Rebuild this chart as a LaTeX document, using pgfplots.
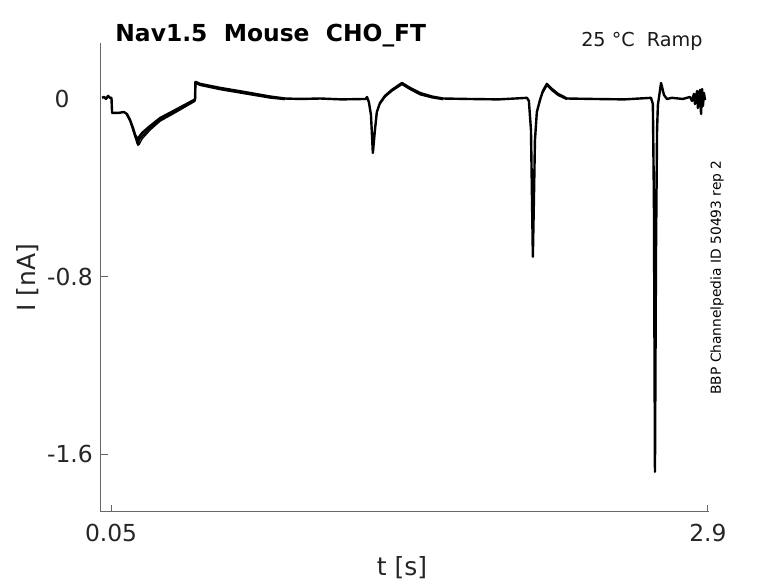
\documentclass[border=0pt]{standalone}
\usepackage{pgfplots}
\pgfplotsset{compat=1.18}
\usepackage{fontspec}
\setmainfont{DejaVu Sans}
\begin{document}
\begin{tikzpicture}
\useasboundingbox (-50.5pt,-35.5pt) rectangle (338.5pt,256pt);
\begin{axis}[
  name=ax, at={(0,0)}, anchor=south west,
  scale only axis, width=304pt, height=234.5pt,
  xmin=0.002, xmax=2.905, ymin=-1.86, ymax=0.252,
  axis x line*=bottom, axis y line*=left,
  axis line style={black!60, line width=0.5pt, -},
  tick style={black!60, line width=0.5pt},
  tick align=inside, major tick length=3.3pt,
  xtick={0.05,2.9}, xticklabels={0.05,2.9},
  ytick={-1.6,-0.8}, yticklabels={-1.6,-0.8},
  ticklabel style={font=\fontsize{11.7}{14}\selectfont, text=black!85},
  xticklabel style={yshift=-2.6pt},
  yticklabel style={xshift=-0.6pt},
]
% main trace
\addplot[black, line width=1.2pt, line join=round] coordinates {
(0.007,0.005) (0.0166,0.009) (0.026,0.0) (0.036,0.014) (0.045,0.005) (0.052,0.005)
(0.055,-0.063) (0.083,-0.063) (0.112,-0.059) (0.126,-0.068) (0.141,-0.095)
(0.155,-0.131) (0.165,-0.162) (0.174,-0.176) (0.179,-0.207) (0.184,-0.171)
(0.198,-0.153) (0.236,-0.122) (0.284,-0.086) (0.356,-0.050) (0.451,-0.002)
(0.453,0.077) (0.475,0.068) (0.570,0.050) (0.714,0.027) (0.809,0.011)
(0.881,0.002) (0.952,0.0) (1.05,0.002) (1.15,-0.002) (1.267,0.0)
(1.272,0.009) (1.281,-0.014) (1.291,-0.072) (1.300,-0.243) (1.310,-0.140)
(1.319,-0.059) (1.334,-0.018) (1.358,0.014) (1.391,0.041) (1.439,0.072)
(1.477,0.050) (1.525,0.027) (1.582,0.011) (1.635,0.002) (1.75,0.0)
(1.90,-0.002) (2.036,0.005)
(2.045,-0.009) (2.055,-0.140) (2.060,-0.455) (2.064,-0.711) (2.069,-0.455)
(2.074,-0.185) (2.083,-0.059) (2.098,-0.005) (2.112,0.036) (2.131,0.068)
(2.155,0.045) (2.184,0.023) (2.227,0.002) (2.35,0.0) (2.50,-0.002) (2.628,0.005)
(2.637,-0.023) (2.642,-0.455) (2.647,-1.679) (2.652,-0.680) (2.657,-0.140)
(2.661,-0.027) (2.676,0.072) (2.690,0.018) (2.704,0.0) (2.728,0.005)
(2.78,0.0) (2.814,0.009) (2.824,-0.009) (2.833,0.023) (2.838,-0.023)
(2.848,0.036) (2.852,-0.041) (2.862,0.041) (2.867,-0.068) (2.872,0.045)
(2.876,-0.032) (2.881,0.027) (2.886,-0.005)
};
% overlapping sweeps
\addplot[black, line width=0.9pt, line join=round] coordinates {
(0.126,-0.072) (0.141,-0.100) (0.155,-0.140) (0.165,-0.170) (0.174,-0.190)
(0.184,-0.185) (0.198,-0.168) (0.236,-0.131) (0.284,-0.095) (0.356,-0.058)
(0.451,-0.008) (0.453,0.072) (0.475,0.062) (0.570,0.043) (0.714,0.020)
(0.809,0.005) (0.881,-0.002)
};
\addplot[black, line width=0.7pt, line join=round] coordinates {
(0.165,-0.170) (0.174,-0.200) (0.184,-0.205) (0.198,-0.180) (0.236,-0.140)
(0.284,-0.100) (0.356,-0.062) (0.451,-0.010)
};
\addplot[black, line width=0.9pt, line join=round] coordinates {
(1.334,-0.022) (1.358,0.010) (1.391,0.036) (1.439,0.066) (1.477,0.044)
(1.525,0.020) (1.582,0.006) (1.635,-0.002)
};
\addplot[black, line width=0.9pt, line join=round] coordinates {
(2.112,0.030) (2.131,0.062) (2.155,0.039) (2.184,0.017) (2.227,-0.002)
};
\end{axis}
\begin{scope}[every node/.style={inner sep=0pt}]
\node[anchor=base west, font=\fontsize{11.7}{14}\selectfont\bfseries] at (7pt,235pt) {Nav1.5\ \ Mouse\ \ CHO\_FT};
\node[anchor=base east, font=\fontsize{9.6}{12}\selectfont, text=black!90] at (301pt,232.5pt) {25 °C\ \ Ramp};
\node[rotate=90, anchor=center, font=\fontsize{6.9}{8}\selectfont] at (308pt,117.25pt) {BBP Channelpedia ID 50493 rep 2};
\node[anchor=center, font=\fontsize{11.7}{14}\selectfont, text=black!85] at (-19.5pt,206.75pt) {0};
\node[anchor=center, font=\fontsize{12.5}{15}\selectfont, text=black!85] at (150.5pt,-27.75pt) {t [s]};
\node[rotate=90, anchor=center, font=\fontsize{12.5}{15}\selectfont, text=black!85] at (-36.75pt,117.25pt) {I [nA]};
\end{scope}
\end{tikzpicture}
\end{document}
